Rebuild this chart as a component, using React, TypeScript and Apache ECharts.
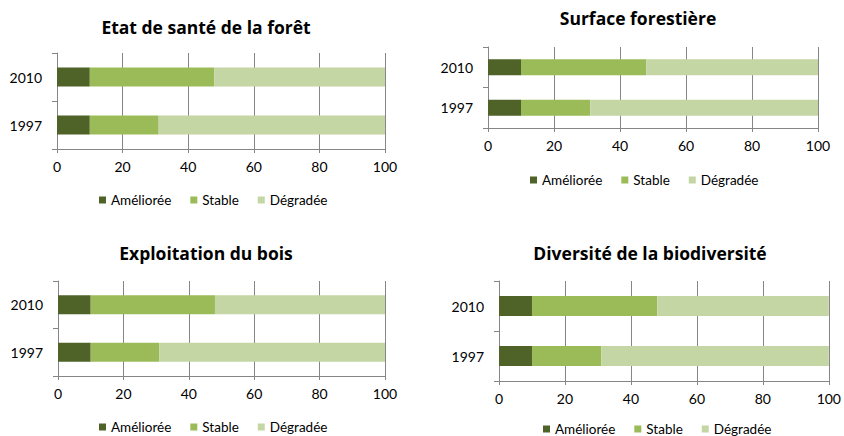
import React, { useEffect, useRef } from "react";
import * as echarts from "echarts";

const years = ["1997", "2010"];
const seriesNames = ["Améliorée", "Stable", "Dégradée"];
const ameliorée = [10, 10];
const stable = [21, 38];
const degradee = [69, 52];
const xTicks = [0, 20, 40, 60, 80, 100];
const titles = [
  "Etat de santé de la forêt",
  "Surface forestière",
  "Exploitation du bois",
  "Diversité de la biodiversité",
];

const colors = ["#4F6228", "#9BBB59", "#C4D6A4"];
const FONT = "Lato, 'Open Sans', sans-serif";
const TITLE_FONT = "'Open Sans', Lato, sans-serif";

const panels = [
  { grid: { left: 57, top: 53, width: 328, height: 96 }, titleX: 206, titleY: 27, legendLeft: 99, legendTop: 193 },
  { grid: { left: 488, top: 47, width: 330, height: 81 }, titleX: 638, titleY: 18, legendLeft: 530, legendTop: 173 },
  { grid: { left: 58, top: 281, width: 327, height: 95 }, titleX: 206, titleY: 253, legendLeft: 99, legendTop: 420 },
  { grid: { left: 499, top: 281, width: 331, height: 100 }, titleX: 650, titleY: 253, legendLeft: 543, legendTop: 422 },
];

export default function App() {
  const ref = useRef<HTMLDivElement>(null);
  useEffect(() => {
    if (!ref.current) return;
    const chart = echarts.init(ref.current, undefined, { renderer: "svg" });
    const values = [ameliorée, stable, degradee];
    const option: any = {
      animation: false,
      backgroundColor: "#ffffff",
      grid: panels.map((p) => ({ ...p.grid, containLabel: false })),
      xAxis: panels.map((_, i) => ({
        type: "value",
        gridIndex: i,
        min: xTicks[0],
        max: xTicks[xTicks.length - 1],
        interval: 20,
        axisLine: { show: true, lineStyle: { color: "#868686", width: 1 } },
        axisTick: { show: true, length: 4, lineStyle: { color: "#868686" } },
        splitLine: { show: true, lineStyle: { color: "#868686", width: 1 } },
        axisLabel: { color: "#000", fontSize: 14, fontFamily: FONT, margin: 10 },
      })),
      yAxis: panels.map((_, i) => ({
        type: "category",
        gridIndex: i,
        data: years,
        axisLine: { show: true, lineStyle: { color: "#868686", width: 1 } },
        axisTick: { show: true, length: 5, alignWithLabel: false, lineStyle: { color: "#868686" } },
        splitLine: { show: false },
        axisLabel: { color: "#000", fontSize: 14, fontFamily: FONT, margin: 15 },
      })),
      legend: panels.map((p) => ({
        left: p.legendLeft,
        top: p.legendTop,
        data: seriesNames,
        icon: "rect",
        itemWidth: 7,
        itemHeight: 7,
        itemGap: 19,
        padding: 0,
        textStyle: { color: "#000", fontSize: 13.5, fontFamily: FONT },
      })),
      series: panels.flatMap((_, i) =>
        seriesNames.map((name, k) => ({
          type: "bar",
          name,
          stack: "s" + i,
          xAxisIndex: i,
          yAxisIndex: i,
          data: values[k],
          barCategoryGap: "60%",
          itemStyle: { color: colors[k] },
        }))
      ),
      graphic: panels.map((p, i) => ({
        type: "text",
        x: p.titleX,
        y: p.titleY,
        style: {
          text: titles[i],
          textAlign: "center",
          textVerticalAlign: "middle",
          fontSize: 17.5,
          fontWeight: "bold",
          fontFamily: TITLE_FONT,
          fill: "#000",
        },
      })),
    };
    chart.setOption(option);
    return () => chart.dispose();
  }, []);
  return (
    <div
      ref={ref}
      style={{ position: "fixed", left: 0, top: 0, width: 844, height: 436, background: "#fff" }}
    />
  );
}
